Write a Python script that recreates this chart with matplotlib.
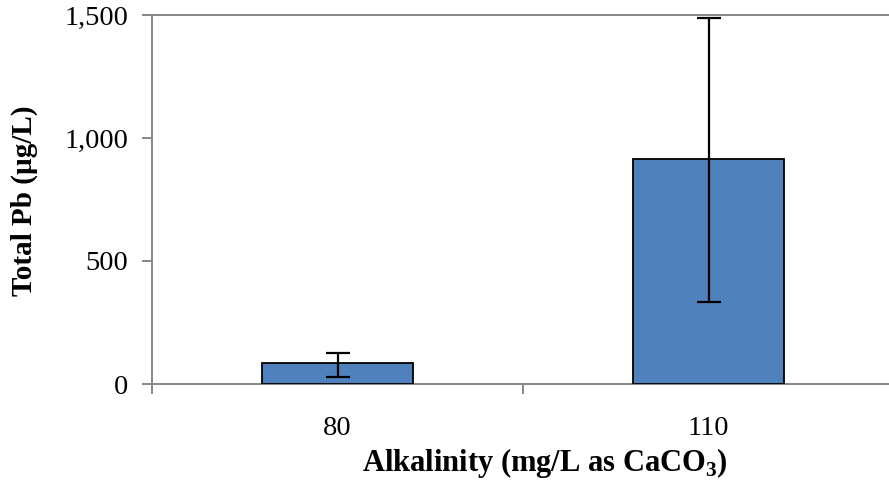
import matplotlib.pyplot as plt
import numpy as np

# Total lead vs alkalinity
alkalinity = ['80', '110']
total_pb = [87, 915]
err_low = [57, 582]
err_high = [40, 571]

plt.rcParams['font.family'] = ['Liberation Serif', 'DejaVu Serif']
plt.rcParams['mathtext.fontset'] = 'custom'
plt.rcParams['mathtext.rm'] = 'Liberation Serif'
plt.rcParams['mathtext.bf'] = 'Liberation Serif:bold'

fig = plt.figure(figsize=(8.89, 4.88), dpi=100)
ax = fig.add_axes([152 / 889, 104 / 488, 742 / 889, 369 / 488])

x = np.arange(len(alkalinity))
ax.bar(x, total_pb, width=0.405, color='#4F81BD', edgecolor='black', linewidth=1.3,
       yerr=[err_low, err_high], capsize=8.5,
       error_kw=dict(elinewidth=1.6, capthick=1.6, ecolor='black'), zorder=3)

ax.set_xlim(-0.5, 1.5)
ax.set_ylim(0, 1500)
ax.set_yticks([0, 500, 1000, 1500])
ax.set_yticklabels(['0', '500', '1,000', '1,500'])
ax.set_xticks(x)
ax.set_xticklabels(alkalinity)
ax.set_xticks([-0.5, 0.5, 1.5], minor=True)

grey = '#868686'
for side in ['left', 'bottom', 'top']:
    ax.spines[side].set_color(grey)
    ax.spines[side].set_linewidth(1.4)
ax.spines['right'].set_visible(False)

ax.tick_params(axis='y', direction='out', length=7, width=1.4, color=grey,
               labelsize=20.5, pad=10)
ax.tick_params(axis='x', which='major', length=0, labelsize=20.5, pad=23)
ax.tick_params(axis='x', which='minor', direction='out', length=7, width=1.4, color=grey)

fig.text(24 / 889, 1 - 201 / 488, 'Total Pb (µg/L)', rotation=90, fontsize=21,
         fontweight='bold', ha='center', va='center')
fig.text(545 / 889, 1 - 463 / 488, r'Alkalinity (mg/L as CaCO$_{\mathbf{3}}$)',
         fontsize=22, fontweight='bold', ha='center', va='center')

fig.savefig('out.png', dpi=100)
